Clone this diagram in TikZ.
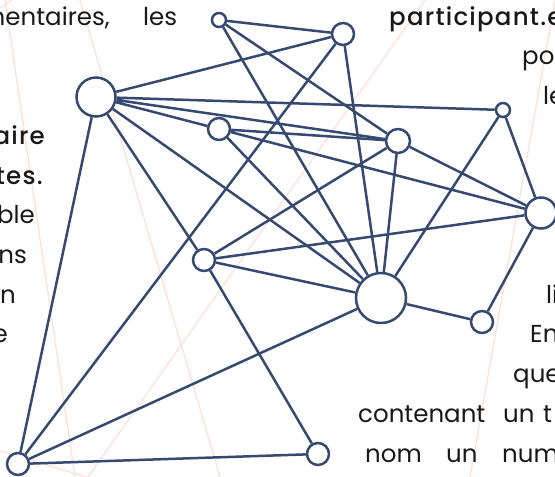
\documentclass[tikz,border=0pt]{standalone}
\usepackage{fontspec}
\setmainfont{Poppins}[BoldFont={Poppins Medium}]
\usepackage{tikz}
\definecolor{netblue}{RGB}{54,74,113}
\definecolor{guidepink}{RGB}{251,226,218}
\definecolor{inkgray}{RGB}{24,24,24}

\begin{document}
\begin{tikzpicture}[x=1pt,y=-1pt,
		vertex/.style={circle, draw=netblue, line width=2.5pt, fill=white, inner sep=0pt, minimum size=#1},
		link/.style={draw=netblue, line width=2.5pt},
		guide/.style={draw=guidepink, line width=1.4pt},
		word/.style={text=inkgray, font=\fontsize{24.5}{30}\selectfont, inner sep=0pt},
		strong/.style={word, font=\fontsize{24.5}{30}\selectfont\bfseries\addfontfeatures{LetterSpace=5}}]
	\useasboundingbox (0,0) rectangle (555,477);
	\draw[guide] (5,0) -- (75,477);
	\draw[guide] (80,0) -- (220,477);
	\draw[guide] (425,0) -- (88,477);
	\draw[guide] (555,0) -- (470,477);
	\draw[guide] (0,8) -- (12,0);
	\draw[guide] (0,451) -- (90,478);
	\node[word, anchor=base east] (wa) at (110,25) {mentaires,};
	\node[word, anchor=base west] (wb) at (143,25) {les};
	\node[strong, anchor=base east] (wc) at (45,144) {aire};
	\node[strong, anchor=base east] (wd) at (43,184) {tes.};
	\node[word, anchor=base east] (we) at (35,223.5) {ble};
	\node[word, anchor=base east] (wf) at (27,263) {ns};
	\node[word, anchor=base east] (wg) at (16,303) {n};
	\node[word, anchor=base east] (wh) at (8,342.5) {e};
	\node[strong, anchor=base west] (wi) at (389,25) {participant.e};
	\node[word, anchor=base west] (wj) at (522,64.5) {po};
	\node[word, anchor=base west] (wk) at (543,104.5) {le};
	\node[word, anchor=base west] (wl) at (546,303) {li};
	\node[word, anchor=base west] (wm) at (530,342.5) {En};
	\node[word, anchor=base west] (wn) at (513,382.5) {que};
	\node[word, anchor=base west] (wo) at (358,422) {contenant};
	\node[word, anchor=base west] (wp) at (503,422) {un};
	\node[word, anchor=base west] (wq) at (543,422) {t};
	\node[word, anchor=base west] (wr) at (365,462) {nom};
	\node[word, anchor=base west] (ws) at (446,462) {un};
	\node[word, anchor=base west] (wt) at (502,462) {num};
	\node[vertex=14pt] (a) at (219,20) {};
	\node[vertex=22pt] (b) at (343,34) {};
	\node[vertex=39pt] (c) at (96,97) {};
	\node[vertex=22pt] (d) at (219,129) {};
	\node[vertex=24pt] (e) at (398,141) {};
	\node[vertex=14pt] (f) at (503,110) {};
	\node[vertex=31pt] (g) at (541,213) {};
	\node[vertex=22pt] (h) at (204,260) {};
	\node[vertex=50pt] (i) at (381,298) {};
	\node[vertex=22pt] (j) at (482,322) {};
	\node[vertex=22pt] (k) at (18,464) {};
	\node[vertex=22pt] (l) at (318,454) {};
	\draw[link] (a) -- (b) (a) -- (e) (a) -- (i);
	\draw[link] (b) -- (c) (b) -- (k) (b) -- (i);
	\draw[link] (c) -- (f) (c) -- (e) (c) -- (d) (c) -- (i) (c) -- (h) (c) -- (k);
	\draw[link] (d) -- (e) (d) -- (g) (d) -- (i);
	\draw[link] (e) -- (h) (e) -- (g) (e) -- (i);
	\draw[link] (f) -- (g) (f) -- (i);
	\draw[link] (g) -- (h) (g) -- (j);
	\draw[link] (h) -- (i) (h) -- (l);
	\draw[link] (i) -- (j) (i) -- (k);
	\draw[link] (k) -- (l);
\end{tikzpicture}
\end{document}
